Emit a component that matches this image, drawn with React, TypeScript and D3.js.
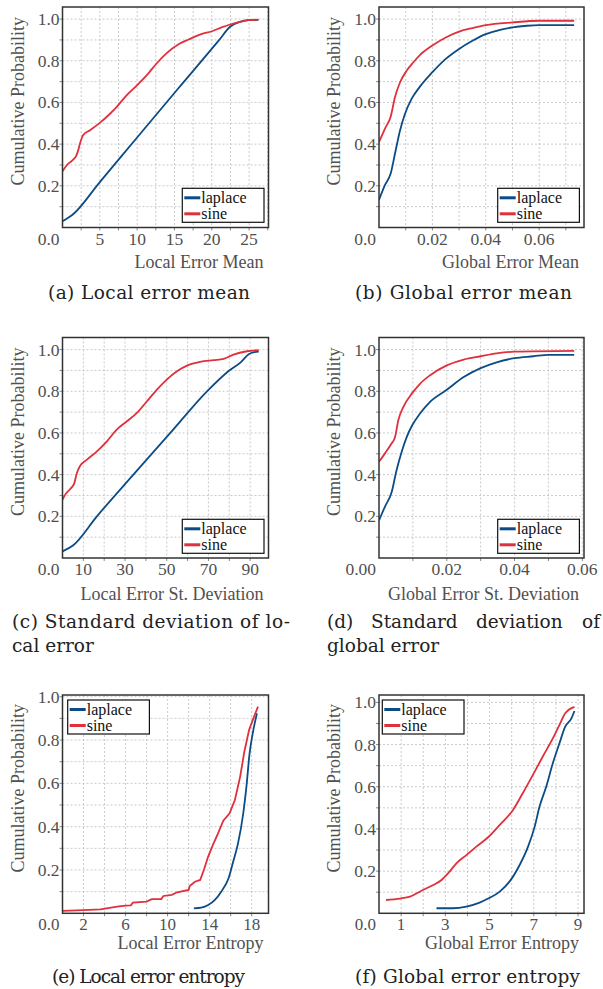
import React from "react";
import * as d3 from "d3";

// ---------- data ----------
type Pt = [number, number];

const seriesNames = ["laplace", "sine"];

const aLaplace: Pt[] = [[0,0.03],[1.3,0.06],[5,0.218],[10,0.432],[15.5,0.667],[21,0.9],[22.45,0.963],[23.8,0.987],[24.9,0.995],[26.25,0.996]];
const aSine: Pt[] = [[0,0.27],[0.6,0.3],[1.25,0.32],[1.85,0.345],[2.1,0.37],[2.4,0.41],[2.75,0.443],[3.7,0.467],[5,0.502],[6.4,0.547],[7.3,0.58],[8.4,0.627],[10,0.683],[11.3,0.731],[12.6,0.787],[14,0.838],[15.5,0.878],[16.9,0.902],[18.4,0.925],[20.2,0.944],[21.3,0.96],[22.45,0.974],[23.8,0.987],[24.9,0.995],[26.25,0.997]];

const bLaplace: Pt[] = [[0,0.132],[0.00225,0.204],[0.0044,0.26],[0.006,0.355],[0.0079,0.467],[0.00975,0.546],[0.01225,0.618],[0.0154,0.677],[0.02,0.745],[0.025,0.809],[0.03,0.857],[0.035,0.896],[0.04,0.928],[0.045,0.947],[0.05,0.96],[0.0554,0.968],[0.06,0.971],[0.0731,0.971]];
const bSine: Pt[] = [[0,0.41],[0.00225,0.475],[0.0044,0.533],[0.006,0.626],[0.0079,0.697],[0.0104,0.753],[0.0129,0.793],[0.0154,0.828],[0.02,0.873],[0.025,0.912],[0.03,0.94],[0.035,0.957],[0.04,0.971],[0.05,0.984],[0.06,0.992],[0.0731,0.992]];

const cLaplace: Pt[] = [[0,0.032],[5,0.06],[16.5,0.2],[34,0.4],[51.7,0.6],[69.3,0.8],[80,0.9],[85.6,0.94],[89.3,0.978],[92,0.988],[94.1,0.99]];
const cSine: Pt[] = [[0,0.28],[1.3,0.304],[3.7,0.331],[5.6,0.357],[6.9,0.408],[8.5,0.443],[11.7,0.472],[16.5,0.512],[21.3,0.56],[26,0.616],[30.9,0.656],[35.7,0.696],[40.5,0.752],[45.3,0.808],[50,0.856],[54.9,0.896],[59.7,0.923],[66,0.941],[72.5,0.949],[77.3,0.955],[82,0.976],[88.5,0.992],[94.1,0.997]];

const dLaplace: Pt[] = [[0,0.18],[0.00177,0.247],[0.0037,0.314],[0.0052,0.422],[0.0067,0.51],[0.0082,0.581],[0.0098,0.637],[0.0121,0.693],[0.015,0.748],[0.02,0.807],[0.025,0.868],[0.03,0.911],[0.0347,0.939],[0.04,0.959],[0.0456,0.968],[0.05,0.975],[0.0576,0.975]];
const dSine: Pt[] = [[0,0.462],[0.00177,0.502],[0.0037,0.549],[0.0047,0.578],[0.0057,0.661],[0.0072,0.725],[0.0098,0.791],[0.0121,0.836],[0.015,0.876],[0.02,0.924],[0.025,0.952],[0.03,0.968],[0.0347,0.982],[0.04,0.99],[0.0576,0.994]];

const eLaplace: Pt[] = [[12.5,0.023],[13.2,0.026],[13.86,0.038],[14.5,0.062],[15.1,0.1],[15.8,0.162],[16.2,0.231],[16.7,0.323],[17.2,0.462],[17.5,0.585],[17.8,0.738],[18.07,0.823],[18.5,0.923]];
const eSine: Pt[] = [[0,0.011],[2,0.015],[3.6,0.018],[4.2,0.023],[5.2,0.031],[6,0.035],[6.5,0.037],[6.7,0.049],[8,0.054],[8.5,0.065],[9.4,0.066],[9.6,0.08],[10.4,0.085],[10.9,0.097],[12,0.108],[12.1,0.126],[12.6,0.146],[13.1,0.154],[13.45,0.2],[13.86,0.262],[14.3,0.315],[14.8,0.369],[15.3,0.428],[15.9,0.462],[16.4,0.523],[16.9,0.63],[17.3,0.746],[17.75,0.846],[18.1,0.892],[18.6,0.954]];

const fLaplace: Pt[] = [[2.6,0.024],[3.35,0.024],[3.95,0.032],[4.55,0.051],[4.96,0.071],[5.46,0.103],[5.9,0.15],[6.36,0.229],[6.74,0.316],[7.04,0.411],[7.26,0.506],[7.56,0.6],[7.86,0.711],[8.16,0.806],[8.42,0.885],[8.7,0.924],[8.84,0.959]];
const fSine: Pt[] = [[0.32,0.063],[0.95,0.07],[1.4,0.079],[1.92,0.107],[2.45,0.134],[2.83,0.158],[3.13,0.19],[3.5,0.237],[3.95,0.276],[4.4,0.316],[4.96,0.363],[5.46,0.419],[6.06,0.49],[6.5,0.569],[6.96,0.656],[7.4,0.742],[7.86,0.829],[8.16,0.893],[8.42,0.948],[8.84,0.979]];

const yGridValues = [0.1,0.2,0.3,0.4,0.5,0.6,0.7,0.8,0.9,1.0];
const yTickLabels = ["0.2","0.4","0.6","0.8","1.0"];
const yTickValues = [0.2,0.4,0.6,0.8,1.0];

const aXGrid = [2.5,5,7.5,10,12.5,15,17.5,20,22.5,25,27.5];
const aXTicks = [5,10,15,20,25];
const aXTickLabels = ["5","10","15","20","25"];
const bXGrid = [0.01,0.02,0.03,0.04,0.05,0.06,0.07];
const bXTicks = [0.02,0.04,0.06];
const bXTickLabels = ["0.02","0.04","0.06"];
const cXGrid = [10,20,30,40,50,60,70,80,90];
const cXTicks = [10,30,50,70,90];
const cXTickLabels = ["10","30","50","70","90"];
const dXGrid = [0.01,0.02,0.03,0.04,0.05,0.06];
const dXTicks = [0.02,0.04,0.06];
const dXTickLabels = ["0.02","0.04","0.06"];
const eXGrid = [2,4,6,8,10,12,14,16,18];
const eXTicks = [2,6,10,14,18];
const eXTickLabels = ["2","6","10","14","18"];
const fXGrid = [1,2,3,4,5,6,7,8,9];
const fXTicks = [1,3,5,7,9];
const fXTickLabels = ["1","3","5","7","9"];

const xTitles = ["Local Error Mean","Global Error Mean","Local Error St. Deviation","Global Error St. Deviation","Local Error Entropy","Global Error Entropy"];
const yTitle = "Cumulative Probability";

// ---------- styles ----------
const BLUE = "#0b4c86";
const RED = "#e0303c";
const GRAY_TEXT = "#505050";
const AXIS_FONT = "'Liberation Serif', 'Times New Roman', serif";
const CAPTION_FONT = "'DejaVu Serif', serif";

type PanelCfg = {
  id: string;
  frame: [number, number, number, number]; // left, top, right, bottom
  xMax: number;
  yMax: number;
  laplace: Pt[];
  sine: Pt[];
  xGrid: number[];
  xTicks: number[];
  xTickLabels: string[];
  corner: string;
  xTitle: string;
  titleDy: number;
  legend: [number, number]; // left, top
};

const panels: PanelCfg[] = [
  { id: "a", frame: [62.5, 7, 268.5, 227.5], xMax: 27.6, yMax: 1.058, laplace: aLaplace, sine: aSine, xGrid: aXGrid, xTicks: aXTicks, xTickLabels: aXTickLabels, corner: "0.0", xTitle: xTitles[0], titleDy: 40.5, legend: [182.3, 188.3] },
  { id: "b", frame: [379, 7, 584, 227.5], xMax: 0.0768, yMax: 1.058, laplace: bLaplace, sine: bSine, xGrid: bXGrid, xTicks: bXTicks, xTickLabels: bXTickLabels, corner: "0.0", xTitle: xTitles[1], titleDy: 40.5, legend: [497.7, 188.3] },
  { id: "c", frame: [62.5, 337.5, 268.5, 558], xMax: 98.8, yMax: 1.058, laplace: cLaplace, sine: cSine, xGrid: cXGrid, xTicks: cXTicks, xTickLabels: cXTickLabels, corner: "0.0", xTitle: xTitles[2], titleDy: 41.5, legend: [182.3, 519.3] },
  { id: "d", frame: [379, 337.5, 584, 558], xMax: 0.0605, yMax: 1.058, laplace: dLaplace, sine: dSine, xGrid: dXGrid, xTicks: dXTicks, xTickLabels: dXTickLabels, corner: "0.00", xTitle: xTitles[3], titleDy: 41.5, legend: [497.7, 519.3] },
  { id: "e", frame: [62.5, 695, 268.5, 913.3], xMax: 19.6, yMax: 1.008, laplace: eLaplace, sine: eSine, xGrid: eXGrid, xTicks: eXTicks, xTickLabels: eXTickLabels, corner: "0.0", xTitle: xTitles[4], titleDy: 36, legend: [67.7, 700] },
  { id: "f", frame: [379, 695, 584, 913.3], xMax: 9.27, yMax: 1.035, laplace: fLaplace, sine: fSine, xGrid: fXGrid, xTicks: fXTicks, xTickLabels: fXTickLabels, corner: "0.0", xTitle: xTitles[5], titleDy: 36, legend: [382.3, 700] },
];

function Panel({ p }: { p: PanelCfg }) {
  const [l, t, r, b] = p.frame;
  const x = d3.scaleLinear().domain([0, p.xMax]).range([l, r]);
  const y = d3.scaleLinear().domain([0, p.yMax]).range([b, t]);
  const line = d3.line<Pt>().x((d) => x(d[0])).y((d) => y(d[1])).curve(d3.curveMonotoneX);
  const lineStep = d3.line<Pt>().x((d) => x(d[0])).y((d) => y(d[1])).curve(d3.curveLinear);
  const clipId = "clip-" + p.id;
  const sinePath = p.id === "e" ? lineStep(p.sine) : line(p.sine);
  const [lgx, lgy] = p.legend;
  const lgW = 81.7;
  const lgH = 34;
  const midY = (t + b) / 2 - 16;
  const tickFs = p.id === "e" || p.id === "f" ? 17 : 17.5;
  const tickDy = p.id === "e" || p.id === "f" ? 16.5 : 17;
  return (
    <g>
      <defs>
        <clipPath id={clipId}>
          <rect x={l} y={t} width={r - l} height={b - t} />
        </clipPath>
      </defs>
      <rect x={l} y={t} width={r - l} height={b - t} fill="#ffffff" />
      {/* grid */}
      {p.xGrid.map((v) => (
        <line key={"xg" + v} x1={x(v)} x2={x(v)} y1={t} y2={b} stroke="#c4c4c4" strokeWidth={0.9} strokeDasharray="2,2" />
      ))}
      {yGridValues.map((v) => (
        <line key={"yg" + v} x1={l} x2={r} y1={y(v)} y2={y(v)} stroke="#c4c4c4" strokeWidth={0.9} strokeDasharray="2,2" />
      ))}
      {/* tick marks */}
      {p.xGrid.map((v) => (
        <line key={"xt" + v} x1={x(v)} x2={x(v)} y1={b} y2={b + 3} stroke="#888" strokeWidth={1} />
      ))}
      {yGridValues.map((v) => (
        <line key={"yt" + v} x1={l - 3} x2={l} y1={y(v)} y2={y(v)} stroke="#888" strokeWidth={1} />
      ))}
      {/* curves */}
      <g clipPath={`url(#${clipId})`}>
        <path d={line(p.laplace) || ""} fill="none" stroke={BLUE} strokeWidth={1.8} />
        <path d={sinePath || ""} fill="none" stroke={RED} strokeWidth={1.8} />
      </g>
      {/* frame */}
      <rect x={l} y={t} width={r - l} height={b - t} fill="none" stroke="#333" strokeWidth={1.5} />
      {/* tick labels */}
      {yTickValues.map((v, i) => (
        <text key={"yl" + v} x={l - 3} y={y(v) + 6} textAnchor="end" fontFamily={AXIS_FONT} fontSize={17.5} fill={GRAY_TEXT}>
          {yTickLabels[i]}
        </text>
      ))}
      <text x={l - 3} y={b + tickDy} textAnchor="end" fontFamily={AXIS_FONT} fontSize={tickFs} fill={GRAY_TEXT}>
        {p.corner}
      </text>
      {p.xTicks.map((v, i) => (
        <text key={"xl" + v} x={x(v)} y={b + tickDy} textAnchor="middle" fontFamily={AXIS_FONT} fontSize={tickFs} fill={GRAY_TEXT}>
          {p.xTickLabels[i]}
        </text>
      ))}
      {/* axis titles */}
      <text x={r - 5} y={b + p.titleDy} textAnchor="end" fontFamily={AXIS_FONT} fontSize={18} fill={GRAY_TEXT}>
        {p.xTitle}
      </text>
      <text transform={`translate(${l - 39},${midY}) rotate(-90)`} textAnchor="middle" fontFamily={AXIS_FONT} fontSize={18} fill={GRAY_TEXT}>
        {yTitle}
      </text>
      {/* legend */}
      <rect x={lgx} y={lgy} width={lgW} height={lgH} fill="#fff" stroke="#111" strokeWidth={1.2} />
      {seriesNames.map((name, i) => (
        <g key={name}>
          <line x1={lgx + 2} x2={lgx + 18} y1={lgy + 9.5 + i * 16} y2={lgy + 9.5 + i * 16} stroke={i === 0 ? BLUE : RED} strokeWidth={3} />
          <text x={lgx + 19} y={lgy + 14.5 + i * 16} fontFamily={AXIS_FONT} fontSize={16} fill="#111">
            {name}
          </text>
        </g>
      ))}
    </g>
  );
}

const captionStyle = { fontFamily: CAPTION_FONT, fontSize: 18.5, fill: "#222" } as const;

export default function App() {
  return (
    <svg width={603} height={989} style={{ position: "absolute", left: 0, top: 0, background: "#fff" }}>
      <rect x={0} y={0} width={603} height={989} fill="#fff" />
      {panels.map((p) => (
        <Panel key={p.id} p={p} />
      ))}
      {/* captions */}
      <text x={48} y={299} {...captionStyle} textLength={202} lengthAdjust="spacing">(a) Local error mean</text>
      <text x={355} y={299} {...captionStyle} textLength={217} lengthAdjust="spacing">(b) Global error mean</text>
      <text x={12} y={628} {...captionStyle} textLength={278} lengthAdjust="spacing">(c) Standard deviation of lo-</text>
      <text x={12} y={652} {...captionStyle}>cal error</text>
      <text x={327} y={628} {...captionStyle}>(d)</text>
      <text x={371} y={628} {...captionStyle}>Standard</text>
      <text x={476} y={628} {...captionStyle}>deviation</text>
      <text x={600} y={628} {...captionStyle} textAnchor="end">of</text>
      <text x={327} y={652} {...captionStyle}>global error</text>
      <text x={52} y={983} {...captionStyle} textLength={193} lengthAdjust="spacing">(e) Local error entropy</text>
      <text x={355} y={983} {...captionStyle} textLength={225} lengthAdjust="spacing">(f) Global error entropy</text>
    </svg>
  );
}
